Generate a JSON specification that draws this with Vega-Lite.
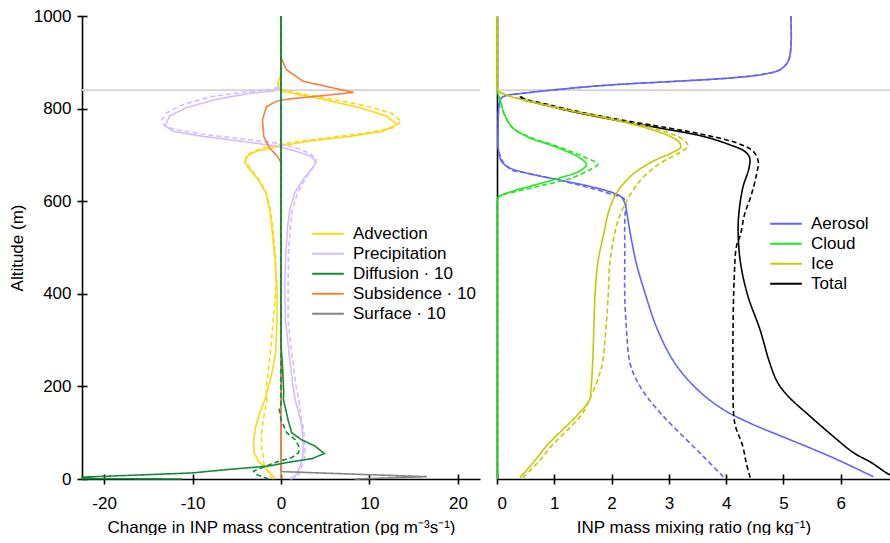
{
"$schema": "https://vega.github.io/schema/vega-lite/v6.json",
"background": "white",
"padding": {"left": 8, "top": 7, "right": 0, "bottom": 0},
"bounds": "flush",
"spacing": 17,
"config": {
  "font": "Liberation Sans",
  "view": {"stroke": null},
  "axis": {"grid": false, "labelFontSize": 17, "titleFontSize": 17, "titleFontWeight": "normal", "labelColor": "black", "titleColor": "black", "domainColor": "black", "tickColor": "black", "domainWidth": 1.6, "tickWidth": 1.6, "tickSize": 5, "labelPadding": 6, "titlePadding": 6.7, "labelFont": "Liberation Sans", "titleFont": "Liberation Sans", "gridColor": "black", "gridWidth": 1.6, "gridOpacity": 1},
  "axisX": {"labelPadding": 11, "titlePadding": 8, "gridDash": [0, 458, 5, 3000]},
  "axisY": {"gridDash": [5, 3000]},
  "legend": {"labelFontSize": 17, "labelFont": "Liberation Sans", "labelColor": "black"}
},
"resolve": {"scale": {"color": "independent", "strokeDash": "independent"}},
"datasets": {
  "L": [
{"s":"Advection","r":"solid","z":1000,"v":0},{"s":"Advection","r":"solid","z":900,"v":0},{"s":"Advection","r":"solid","z":872,"v":0},{"s":"Advection","r":"solid","z":862,"v":-0.25},{"s":"Advection","r":"solid","z":852,"v":-0.35},{"s":"Advection","r":"solid","z":845,"v":-0.2},{"s":"Advection","r":"solid","z":838,"v":0},{"s":"Advection","r":"solid","z":833,"v":1.4},{"s":"Advection","r":"solid","z":820,"v":4.75},{"s":"Advection","r":"solid","z":802,"v":8.9},{"s":"Advection","r":"solid","z":784,"v":11.9},{"s":"Advection","r":"solid","z":766,"v":13.1},{"s":"Advection","r":"solid","z":751,"v":11.5},{"s":"Advection","r":"solid","z":740,"v":7.8},{"s":"Advection","r":"solid","z":730,"v":3.2},{"s":"Advection","r":"solid","z":719,"v":-0.15},{"s":"Advection","r":"solid","z":708,"v":-2.8},{"s":"Advection","r":"solid","z":697,"v":-3.9},{"s":"Advection","r":"solid","z":683,"v":-4.1},{"s":"Advection","r":"solid","z":668,"v":-3.5},{"s":"Advection","r":"solid","z":647,"v":-2.6},{"s":"Advection","r":"solid","z":618,"v":-1.7},{"s":"Advection","r":"solid","z":582,"v":-1.3},{"s":"Advection","r":"solid","z":546,"v":-1.05},{"s":"Advection","r":"solid","z":488,"v":-0.75},{"s":"Advection","r":"solid","z":416,"v":-0.45},{"s":"Advection","r":"solid","z":345,"v":-0.45},{"s":"Advection","r":"solid","z":273,"v":-0.6},{"s":"Advection","r":"solid","z":222,"v":-1.1},{"s":"Advection","r":"solid","z":172,"v":-1.8},{"s":"Advection","r":"solid","z":143,"v":-2.4},{"s":"Advection","r":"solid","z":114,"v":-2.85},{"s":"Advection","r":"solid","z":85,"v":-3.1},{"s":"Advection","r":"solid","z":57,"v":-3.05},{"s":"Advection","r":"solid","z":38,"v":-2.55},{"s":"Advection","r":"solid","z":24,"v":-1.8},{"s":"Advection","r":"solid","z":10,"v":-1.05},{"s":"Advection","r":"solid","z":0,"v":-0.6},
{"s":"Advection","r":"dashed","z":1000,"v":0},{"s":"Advection","r":"dashed","z":900,"v":0},{"s":"Advection","r":"dashed","z":872,"v":0},{"s":"Advection","r":"dashed","z":862,"v":-0.25},{"s":"Advection","r":"dashed","z":852,"v":-0.35},{"s":"Advection","r":"dashed","z":845,"v":-0.1},{"s":"Advection","r":"dashed","z":840,"v":0.3},{"s":"Advection","r":"dashed","z":834,"v":1.8},{"s":"Advection","r":"dashed","z":822,"v":5.3},{"s":"Advection","r":"dashed","z":806,"v":9.6},{"s":"Advection","r":"dashed","z":789,"v":12.6},{"s":"Advection","r":"dashed","z":772,"v":13.6},{"s":"Advection","r":"dashed","z":758,"v":12.6},{"s":"Advection","r":"dashed","z":746,"v":9.2},{"s":"Advection","r":"dashed","z":736,"v":4.8},{"s":"Advection","r":"dashed","z":726,"v":0.8},{"s":"Advection","r":"dashed","z":715,"v":-2.2},{"s":"Advection","r":"dashed","z":703,"v":-3.6},{"s":"Advection","r":"dashed","z":688,"v":-4.0},{"s":"Advection","r":"dashed","z":672,"v":-3.5},{"s":"Advection","r":"dashed","z":650,"v":-2.6},{"s":"Advection","r":"dashed","z":620,"v":-1.7},{"s":"Advection","r":"dashed","z":582,"v":-1.2},{"s":"Advection","r":"dashed","z":546,"v":-0.95},{"s":"Advection","r":"dashed","z":488,"v":-0.65},{"s":"Advection","r":"dashed","z":416,"v":-0.55},{"s":"Advection","r":"dashed","z":360,"v":-0.8},{"s":"Advection","r":"dashed","z":273,"v":-1.2},{"s":"Advection","r":"dashed","z":200,"v":-1.65},{"s":"Advection","r":"dashed","z":172,"v":-1.6},{"s":"Advection","r":"dashed","z":128,"v":-2.0},{"s":"Advection","r":"dashed","z":100,"v":-2.2},{"s":"Advection","r":"dashed","z":71,"v":-2.2},{"s":"Advection","r":"dashed","z":46,"v":-2.0},{"s":"Advection","r":"dashed","z":28,"v":-1.9},{"s":"Advection","r":"dashed","z":13,"v":-1.4},{"s":"Advection","r":"dashed","z":0,"v":-0.9},
{"s":"Precipitation","r":"solid","z":1000,"v":0},{"s":"Precipitation","r":"solid","z":860,"v":0},{"s":"Precipitation","r":"solid","z":845,"v":0},{"s":"Precipitation","r":"solid","z":838,"v":-0.9},{"s":"Precipitation","r":"solid","z":833,"v":-3.5},{"s":"Precipitation","r":"solid","z":820,"v":-7.3},{"s":"Precipitation","r":"solid","z":802,"v":-10.7},{"s":"Precipitation","r":"solid","z":784,"v":-12.6},{"s":"Precipitation","r":"solid","z":763,"v":-13.1},{"s":"Precipitation","r":"solid","z":751,"v":-12.2},{"s":"Precipitation","r":"solid","z":740,"v":-8.8},{"s":"Precipitation","r":"solid","z":730,"v":-4.7},{"s":"Precipitation","r":"solid","z":719,"v":-0.5},{"s":"Precipitation","r":"solid","z":708,"v":1.7},{"s":"Precipitation","r":"solid","z":697,"v":3.4},{"s":"Precipitation","r":"solid","z":684,"v":4.0},{"s":"Precipitation","r":"solid","z":668,"v":3.4},{"s":"Precipitation","r":"solid","z":647,"v":2.5},{"s":"Precipitation","r":"solid","z":618,"v":1.55},{"s":"Precipitation","r":"solid","z":582,"v":1.0},{"s":"Precipitation","r":"solid","z":546,"v":0.75},{"s":"Precipitation","r":"solid","z":488,"v":0.55},{"s":"Precipitation","r":"solid","z":416,"v":0.42},{"s":"Precipitation","r":"solid","z":345,"v":0.5},{"s":"Precipitation","r":"solid","z":273,"v":0.9},{"s":"Precipitation","r":"solid","z":200,"v":1.36},{"s":"Precipitation","r":"solid","z":172,"v":1.6},{"s":"Precipitation","r":"solid","z":143,"v":2.0},{"s":"Precipitation","r":"solid","z":114,"v":2.35},{"s":"Precipitation","r":"solid","z":78,"v":2.5},{"s":"Precipitation","r":"solid","z":49,"v":2.5},{"s":"Precipitation","r":"solid","z":28,"v":2.15},{"s":"Precipitation","r":"solid","z":10,"v":1.8},{"s":"Precipitation","r":"solid","z":0,"v":1.0},
{"s":"Precipitation","r":"dashed","z":1000,"v":0},{"s":"Precipitation","r":"dashed","z":860,"v":0},{"s":"Precipitation","r":"dashed","z":848,"v":0},{"s":"Precipitation","r":"dashed","z":842,"v":-1.0},{"s":"Precipitation","r":"dashed","z":836,"v":-4.0},{"s":"Precipitation","r":"dashed","z":826,"v":-7.8},{"s":"Precipitation","r":"dashed","z":808,"v":-11.2},{"s":"Precipitation","r":"dashed","z":790,"v":-13.0},{"s":"Precipitation","r":"dashed","z":775,"v":-13.5},{"s":"Precipitation","r":"dashed","z":763,"v":-13.2},{"s":"Precipitation","r":"dashed","z":755,"v":-12.0},{"s":"Precipitation","r":"dashed","z":745,"v":-9.0},{"s":"Precipitation","r":"dashed","z":736,"v":-5.0},{"s":"Precipitation","r":"dashed","z":726,"v":-0.7},{"s":"Precipitation","r":"dashed","z":715,"v":1.8},{"s":"Precipitation","r":"dashed","z":703,"v":3.3},{"s":"Precipitation","r":"dashed","z":690,"v":4.0},{"s":"Precipitation","r":"dashed","z":672,"v":3.6},{"s":"Precipitation","r":"dashed","z":650,"v":2.8},{"s":"Precipitation","r":"dashed","z":620,"v":1.9},{"s":"Precipitation","r":"dashed","z":582,"v":1.3},{"s":"Precipitation","r":"dashed","z":546,"v":1.05},{"s":"Precipitation","r":"dashed","z":488,"v":0.85},{"s":"Precipitation","r":"dashed","z":416,"v":0.8},{"s":"Precipitation","r":"dashed","z":345,"v":0.8},{"s":"Precipitation","r":"dashed","z":273,"v":1.2},{"s":"Precipitation","r":"dashed","z":200,"v":1.7},{"s":"Precipitation","r":"dashed","z":172,"v":2.0},{"s":"Precipitation","r":"dashed","z":128,"v":2.3},{"s":"Precipitation","r":"dashed","z":114,"v":2.5},{"s":"Precipitation","r":"dashed","z":78,"v":2.7},{"s":"Precipitation","r":"dashed","z":49,"v":2.7},{"s":"Precipitation","r":"dashed","z":28,"v":2.35},{"s":"Precipitation","r":"dashed","z":10,"v":2.1},{"s":"Precipitation","r":"dashed","z":0,"v":1.15},
{"s":"Surface · 10","r":"solid","z":1000,"v":0},{"s":"Surface · 10","r":"solid","z":16,"v":0},{"s":"Surface · 10","r":"solid","z":5,"v":16.5},{"s":"Surface · 10","r":"solid","z":0,"v":8.3},
{"s":"Subsidence · 10","r":"solid","z":1000,"v":0},{"s":"Subsidence · 10","r":"solid","z":910,"v":0},{"s":"Subsidence · 10","r":"solid","z":906,"v":0.1},{"s":"Subsidence · 10","r":"solid","z":884,"v":0.6},{"s":"Subsidence · 10","r":"solid","z":859,"v":2.5},{"s":"Subsidence · 10","r":"solid","z":848,"v":5.1},{"s":"Subsidence · 10","r":"solid","z":835,"v":8.2},{"s":"Subsidence · 10","r":"solid","z":828,"v":4.7},{"s":"Subsidence · 10","r":"solid","z":821,"v":1.0},{"s":"Subsidence · 10","r":"solid","z":816,"v":-0.5},{"s":"Subsidence · 10","r":"solid","z":804,"v":-1.65},{"s":"Subsidence · 10","r":"solid","z":776,"v":-2.1},{"s":"Subsidence · 10","r":"solid","z":740,"v":-1.95},{"s":"Subsidence · 10","r":"solid","z":715,"v":-1.3},{"s":"Subsidence · 10","r":"solid","z":697,"v":-0.4},{"s":"Subsidence · 10","r":"solid","z":683,"v":0},{"s":"Subsidence · 10","r":"solid","z":0,"v":0},
{"s":"Diffusion · 10","r":"solid","z":1000,"v":0},{"s":"Diffusion · 10","r":"solid","z":290,"v":0},{"s":"Diffusion · 10","r":"solid","z":236,"v":0.2},{"s":"Diffusion · 10","r":"solid","z":187,"v":0.3},{"s":"Diffusion · 10","r":"solid","z":172,"v":0.27},{"s":"Diffusion · 10","r":"solid","z":128,"v":0.8},{"s":"Diffusion · 10","r":"solid","z":100,"v":1.2},{"s":"Diffusion · 10","r":"solid","z":85,"v":2.3},{"s":"Diffusion · 10","r":"solid","z":71,"v":3.85},{"s":"Diffusion · 10","r":"solid","z":55,"v":4.9},{"s":"Diffusion · 10","r":"solid","z":44,"v":3.5},{"s":"Diffusion · 10","r":"solid","z":36,"v":0.8},{"s":"Diffusion · 10","r":"solid","z":28,"v":-1.4},{"s":"Diffusion · 10","r":"solid","z":20,"v":-6.3},{"s":"Diffusion · 10","r":"solid","z":13,"v":-10.1},{"s":"Diffusion · 10","r":"solid","z":8,"v":-16.9},{"s":"Diffusion · 10","r":"solid","z":4,"v":-22.5},{"s":"Diffusion · 10","r":"solid","z":0.8,"v":-22.5},{"s":"Diffusion · 10","r":"solid","z":0,"v":-11.2},
{"s":"Diffusion · 10","r":"dashed","z":1000,"v":0},{"s":"Diffusion · 10","r":"dashed","z":160,"v":0},{"s":"Diffusion · 10","r":"dashed","z":150,"v":-0.2},{"s":"Diffusion · 10","r":"dashed","z":128,"v":0},{"s":"Diffusion · 10","r":"dashed","z":100,"v":0.65},{"s":"Diffusion · 10","r":"dashed","z":85,"v":1.6},{"s":"Diffusion · 10","r":"dashed","z":71,"v":2.0},{"s":"Diffusion · 10","r":"dashed","z":57,"v":2.0},{"s":"Diffusion · 10","r":"dashed","z":46,"v":1.2},{"s":"Diffusion · 10","r":"dashed","z":38,"v":-0.3},{"s":"Diffusion · 10","r":"dashed","z":31,"v":-1.3},{"s":"Diffusion · 10","r":"dashed","z":17,"v":-3.1},{"s":"Diffusion · 10","r":"dashed","z":10,"v":-2.85},{"s":"Diffusion · 10","r":"dashed","z":0,"v":-1.4}
  ],
  "R": [
{"s":"Aerosol","r":"solid","z":1000,"v":5.13},{"s":"Aerosol","r":"solid","z":931,"v":5.13},{"s":"Aerosol","r":"solid","z":902,"v":5.08},{"s":"Aerosol","r":"solid","z":884,"v":4.94},{"s":"Aerosol","r":"solid","z":874,"v":4.64},{"s":"Aerosol","r":"solid","z":866,"v":4.06},{"s":"Aerosol","r":"solid","z":859,"v":3.13},{"s":"Aerosol","r":"solid","z":851,"v":1.97},{"s":"Aerosol","r":"solid","z":841,"v":1.04},{"s":"Aerosol","r":"solid","z":833,"v":0.45},{"s":"Aerosol","r":"solid","z":827,"v":0.13},{"s":"Aerosol","r":"solid","z":820,"v":0.06},{"s":"Aerosol","r":"solid","z":800,"v":0.03},{"s":"Aerosol","r":"solid","z":760,"v":0.02},{"s":"Aerosol","r":"solid","z":715,"v":0.02},{"s":"Aerosol","r":"solid","z":686,"v":0.08},{"s":"Aerosol","r":"solid","z":672,"v":0.22},{"s":"Aerosol","r":"solid","z":661,"v":0.51},{"s":"Aerosol","r":"solid","z":647,"v":1.04},{"s":"Aerosol","r":"solid","z":632,"v":1.62},{"s":"Aerosol","r":"solid","z":618,"v":2.03},{"s":"Aerosol","r":"solid","z":609,"v":2.17},{"s":"Aerosol","r":"solid","z":596,"v":2.23},{"s":"Aerosol","r":"solid","z":557,"v":2.29},{"s":"Aerosol","r":"solid","z":528,"v":2.33},{"s":"Aerosol","r":"solid","z":467,"v":2.43},{"s":"Aerosol","r":"solid","z":395,"v":2.6},{"s":"Aerosol","r":"solid","z":323,"v":2.8},{"s":"Aerosol","r":"solid","z":251,"v":3.1},{"s":"Aerosol","r":"solid","z":193,"v":3.5},{"s":"Aerosol","r":"solid","z":150,"v":3.95},{"s":"Aerosol","r":"solid","z":121,"v":4.41},{"s":"Aerosol","r":"solid","z":85,"v":5.11},{"s":"Aerosol","r":"solid","z":49,"v":5.81},{"s":"Aerosol","r":"solid","z":5,"v":6.57},
{"s":"Aerosol","r":"dashed","z":1000,"v":5.13},{"s":"Aerosol","r":"dashed","z":931,"v":5.13},{"s":"Aerosol","r":"dashed","z":902,"v":5.08},{"s":"Aerosol","r":"dashed","z":884,"v":4.94},{"s":"Aerosol","r":"dashed","z":874,"v":4.64},{"s":"Aerosol","r":"dashed","z":866,"v":4.06},{"s":"Aerosol","r":"dashed","z":859,"v":3.13},{"s":"Aerosol","r":"dashed","z":851,"v":1.97},{"s":"Aerosol","r":"dashed","z":841,"v":1.04},{"s":"Aerosol","r":"dashed","z":833,"v":0.45},{"s":"Aerosol","r":"dashed","z":827,"v":0.13},{"s":"Aerosol","r":"dashed","z":820,"v":0.06},{"s":"Aerosol","r":"dashed","z":800,"v":0.03},{"s":"Aerosol","r":"dashed","z":760,"v":0.02},{"s":"Aerosol","r":"dashed","z":715,"v":0.02},{"s":"Aerosol","r":"dashed","z":686,"v":0.1},{"s":"Aerosol","r":"dashed","z":668,"v":0.25},{"s":"Aerosol","r":"dashed","z":660,"v":0.55},{"s":"Aerosol","r":"dashed","z":645,"v":1.1},{"s":"Aerosol","r":"dashed","z":629,"v":1.62},{"s":"Aerosol","r":"dashed","z":614,"v":2.03},{"s":"Aerosol","r":"dashed","z":607,"v":2.2},{"s":"Aerosol","r":"dashed","z":600,"v":2.24},{"s":"Aerosol","r":"dashed","z":557,"v":2.23},{"s":"Aerosol","r":"dashed","z":467,"v":2.23},{"s":"Aerosol","r":"dashed","z":395,"v":2.23},{"s":"Aerosol","r":"dashed","z":323,"v":2.26},{"s":"Aerosol","r":"dashed","z":251,"v":2.32},{"s":"Aerosol","r":"dashed","z":215,"v":2.43},{"s":"Aerosol","r":"dashed","z":179,"v":2.61},{"s":"Aerosol","r":"dashed","z":136,"v":2.9},{"s":"Aerosol","r":"dashed","z":92,"v":3.25},{"s":"Aerosol","r":"dashed","z":49,"v":3.6},{"s":"Aerosol","r":"dashed","z":5,"v":3.95},
{"s":"Total","r":"solid","z":826,"v":0.4},{"s":"Total","r":"solid","z":820,"v":0.45},{"s":"Total","r":"solid","z":812,"v":0.7},{"s":"Total","r":"solid","z":794,"v":1.3},{"s":"Total","r":"solid","z":776,"v":2.03},{"s":"Total","r":"solid","z":758,"v":2.84},{"s":"Total","r":"solid","z":740,"v":3.6},{"s":"Total","r":"solid","z":722,"v":4.06},{"s":"Total","r":"solid","z":708,"v":4.32},{"s":"Total","r":"solid","z":694,"v":4.41},{"s":"Total","r":"solid","z":672,"v":4.4},{"s":"Total","r":"solid","z":629,"v":4.29},{"s":"Total","r":"solid","z":571,"v":4.22},{"s":"Total","r":"solid","z":528,"v":4.21},{"s":"Total","r":"solid","z":467,"v":4.25},{"s":"Total","r":"solid","z":395,"v":4.38},{"s":"Total","r":"solid","z":323,"v":4.59},{"s":"Total","r":"solid","z":251,"v":4.76},{"s":"Total","r":"solid","z":208,"v":4.9},{"s":"Total","r":"solid","z":179,"v":5.08},{"s":"Total","r":"solid","z":136,"v":5.46},{"s":"Total","r":"solid","z":92,"v":5.87},{"s":"Total","r":"solid","z":57,"v":6.22},{"s":"Total","r":"solid","z":35,"v":6.54},{"s":"Total","r":"solid","z":13,"v":6.8},{"s":"Total","r":"solid","z":9,"v":6.86},
{"s":"Total","r":"dashed","z":826,"v":0.42},{"s":"Total","r":"dashed","z":820,"v":0.5},{"s":"Total","r":"dashed","z":812,"v":0.78},{"s":"Total","r":"dashed","z":794,"v":1.4},{"s":"Total","r":"dashed","z":776,"v":2.15},{"s":"Total","r":"dashed","z":758,"v":3.0},{"s":"Total","r":"dashed","z":744,"v":3.6},{"s":"Total","r":"dashed","z":726,"v":4.18},{"s":"Total","r":"dashed","z":708,"v":4.47},{"s":"Total","r":"dashed","z":686,"v":4.56},{"s":"Total","r":"dashed","z":658,"v":4.53},{"s":"Total","r":"dashed","z":614,"v":4.44},{"s":"Total","r":"dashed","z":571,"v":4.32},{"s":"Total","r":"dashed","z":528,"v":4.25},{"s":"Total","r":"dashed","z":503,"v":4.18},{"s":"Total","r":"dashed","z":431,"v":4.14},{"s":"Total","r":"dashed","z":323,"v":4.12},{"s":"Total","r":"dashed","z":215,"v":4.12},{"s":"Total","r":"dashed","z":121,"v":4.15},{"s":"Total","r":"dashed","z":71,"v":4.29},{"s":"Total","r":"dashed","z":35,"v":4.35},{"s":"Total","r":"dashed","z":3,"v":4.42},
{"s":"Cloud","r":"solid","z":1000,"v":0},{"s":"Cloud","r":"solid","z":900,"v":0},{"s":"Cloud","r":"solid","z":850,"v":0},{"s":"Cloud","r":"solid","z":840,"v":0},{"s":"Cloud","r":"solid","z":816,"v":0.06},{"s":"Cloud","r":"solid","z":787,"v":0.13},{"s":"Cloud","r":"solid","z":758,"v":0.28},{"s":"Cloud","r":"solid","z":737,"v":0.57},{"s":"Cloud","r":"solid","z":722,"v":0.92},{"s":"Cloud","r":"solid","z":708,"v":1.21},{"s":"Cloud","r":"solid","z":694,"v":1.44},{"s":"Cloud","r":"solid","z":679,"v":1.56},{"s":"Cloud","r":"solid","z":665,"v":1.44},{"s":"Cloud","r":"solid","z":650,"v":1.09},{"s":"Cloud","r":"solid","z":636,"v":0.69},{"s":"Cloud","r":"solid","z":622,"v":0.28},{"s":"Cloud","r":"solid","z":611,"v":0.05},{"s":"Cloud","r":"solid","z":604,"v":0.01},{"s":"Cloud","r":"solid","z":598,"v":0},{"s":"Cloud","r":"solid","z":590,"v":0},{"s":"Cloud","r":"solid","z":575,"v":0},{"s":"Cloud","r":"solid","z":540,"v":0},{"s":"Cloud","r":"solid","z":450,"v":0},{"s":"Cloud","r":"solid","z":300,"v":0},{"s":"Cloud","r":"solid","z":0,"v":0},
{"s":"Cloud","r":"dashed","z":1000,"v":0},{"s":"Cloud","r":"dashed","z":900,"v":0},{"s":"Cloud","r":"dashed","z":850,"v":0},{"s":"Cloud","r":"dashed","z":840,"v":0},{"s":"Cloud","r":"dashed","z":816,"v":0.06},{"s":"Cloud","r":"dashed","z":787,"v":0.13},{"s":"Cloud","r":"dashed","z":758,"v":0.28},{"s":"Cloud","r":"dashed","z":737,"v":0.6},{"s":"Cloud","r":"dashed","z":722,"v":0.97},{"s":"Cloud","r":"dashed","z":708,"v":1.28},{"s":"Cloud","r":"dashed","z":694,"v":1.55},{"s":"Cloud","r":"dashed","z":680,"v":1.76},{"s":"Cloud","r":"dashed","z":668,"v":1.62},{"s":"Cloud","r":"dashed","z":650,"v":1.3},{"s":"Cloud","r":"dashed","z":633,"v":0.75},{"s":"Cloud","r":"dashed","z":618,"v":0.23},{"s":"Cloud","r":"dashed","z":610,"v":0.03},{"s":"Cloud","r":"dashed","z":604,"v":0},{"s":"Cloud","r":"dashed","z":596,"v":0},{"s":"Cloud","r":"dashed","z":582,"v":0},{"s":"Cloud","r":"dashed","z":550,"v":0},{"s":"Cloud","r":"dashed","z":450,"v":0},{"s":"Cloud","r":"dashed","z":300,"v":0},{"s":"Cloud","r":"dashed","z":0,"v":0},
{"s":"Ice","r":"solid","z":1000,"v":0},{"s":"Ice","r":"solid","z":900,"v":0},{"s":"Ice","r":"solid","z":855,"v":0},{"s":"Ice","r":"solid","z":845,"v":0},{"s":"Ice","r":"solid","z":840,"v":0.005},{"s":"Ice","r":"solid","z":837,"v":0.03},{"s":"Ice","r":"solid","z":827,"v":0.22},{"s":"Ice","r":"solid","z":812,"v":0.69},{"s":"Ice","r":"solid","z":794,"v":1.33},{"s":"Ice","r":"solid","z":776,"v":2.03},{"s":"Ice","r":"solid","z":758,"v":2.61},{"s":"Ice","r":"solid","z":740,"v":3.02},{"s":"Ice","r":"solid","z":726,"v":3.19},{"s":"Ice","r":"solid","z":715,"v":3.2},{"s":"Ice","r":"solid","z":704,"v":3.04},{"s":"Ice","r":"solid","z":686,"v":2.72},{"s":"Ice","r":"solid","z":658,"v":2.37},{"s":"Ice","r":"solid","z":622,"v":2.11},{"s":"Ice","r":"solid","z":586,"v":1.97},{"s":"Ice","r":"solid","z":528,"v":1.86},{"s":"Ice","r":"solid","z":467,"v":1.76},{"s":"Ice","r":"solid","z":395,"v":1.71},{"s":"Ice","r":"solid","z":323,"v":1.69},{"s":"Ice","r":"solid","z":251,"v":1.67},{"s":"Ice","r":"solid","z":193,"v":1.64},{"s":"Ice","r":"solid","z":172,"v":1.62},{"s":"Ice","r":"solid","z":143,"v":1.44},{"s":"Ice","r":"solid","z":107,"v":1.15},{"s":"Ice","r":"solid","z":71,"v":0.86},{"s":"Ice","r":"solid","z":35,"v":0.63},{"s":"Ice","r":"solid","z":3,"v":0.4},
{"s":"Ice","r":"dashed","z":1000,"v":0},{"s":"Ice","r":"dashed","z":900,"v":0},{"s":"Ice","r":"dashed","z":855,"v":0},{"s":"Ice","r":"dashed","z":845,"v":0},{"s":"Ice","r":"dashed","z":840,"v":0.005},{"s":"Ice","r":"dashed","z":837,"v":0.03},{"s":"Ice","r":"dashed","z":827,"v":0.23},{"s":"Ice","r":"dashed","z":812,"v":0.72},{"s":"Ice","r":"dashed","z":794,"v":1.38},{"s":"Ice","r":"dashed","z":776,"v":2.1},{"s":"Ice","r":"dashed","z":758,"v":2.72},{"s":"Ice","r":"dashed","z":740,"v":3.15},{"s":"Ice","r":"dashed","z":726,"v":3.31},{"s":"Ice","r":"dashed","z":718,"v":3.33},{"s":"Ice","r":"dashed","z":701,"v":3.13},{"s":"Ice","r":"dashed","z":679,"v":2.81},{"s":"Ice","r":"dashed","z":643,"v":2.49},{"s":"Ice","r":"dashed","z":600,"v":2.26},{"s":"Ice","r":"dashed","z":557,"v":2.11},{"s":"Ice","r":"dashed","z":528,"v":2.05},{"s":"Ice","r":"dashed","z":467,"v":1.97},{"s":"Ice","r":"dashed","z":395,"v":1.94},{"s":"Ice","r":"dashed","z":323,"v":1.9},{"s":"Ice","r":"dashed","z":251,"v":1.84},{"s":"Ice","r":"dashed","z":215,"v":1.76},{"s":"Ice","r":"dashed","z":179,"v":1.64},{"s":"Ice","r":"dashed","z":143,"v":1.5},{"s":"Ice","r":"dashed","z":107,"v":1.24},{"s":"Ice","r":"dashed","z":71,"v":0.95},{"s":"Ice","r":"dashed","z":35,"v":0.71},{"s":"Ice","r":"dashed","z":3,"v":0.45}
  ],
  "H": [{"z": 840}]
},
"hconcat": [
  {
    "width": 398, "height": 463,
    "encoding": {
      "y": {"field": "z", "type": "quantitative", "scale": {"domain": [0, 1000], "nice": false},
            "axis": {"title": "Altitude (m)", "values": [0, 200, 400, 600, 800, 1000], "format": "d", "grid": true}}
    },
    "layer": [
      {"data": {"name": "H"}, "mark": {"type": "rule", "color": "#d4d4d4", "strokeWidth": 1.6, "x2Offset": 17}},
      {"data": {"name": "L"},
       "mark": {"type": "line", "strokeWidth": 1.6, "clip": false},
       "encoding": {
         "x": {"field": "v", "type": "quantitative", "scale": {"domain": [-22.5, 22.5], "nice": false},
               "axis": {"title": "Change in INP mass concentration (pg m⁻³s⁻¹)", "values": [-20, -10, 0, 10, 20], "labelExpr": "replace(datum.label, '−', '-')", "grid": true}},
         "color": {"field": "s", "type": "nominal",
                   "scale": {"domain": ["Advection", "Precipitation", "Diffusion · 10", "Subsidence · 10", "Surface · 10"],
                             "range": ["#FFD814", "#D5BCFF", "#148A38", "#F4813C", "#858585"]},
                   "legend": {"orient": "none", "legendX": 229, "legendY": 208, "title": null, "symbolType": "stroke", "symbolSize": 1000, "symbolStrokeWidth": 2, "clipHeight": 19.3, "rowPadding": 0, "labelOffset": 8, "labelFontSize": 17}},
         "strokeDash": {"field": "r", "type": "nominal", "scale": {"domain": ["solid", "dashed"], "range": [[1, 0], [5, 3]]}, "legend": null},
         "order": {"field": "z", "type": "quantitative"}
       }}
    ]
  },
  {
    "width": 393, "height": 463,
    "encoding": {
      "y": {"field": "z", "type": "quantitative", "scale": {"domain": [0, 1000], "nice": false},
            "axis": {"title": null, "labels": false, "ticks": false, "domain": true, "grid": false}}
    },
    "layer": [
      {"data": {"name": "H"}, "mark": {"type": "rule", "color": "#d4d4d4", "strokeWidth": 1.6}},
      {"data": {"name": "R"},
       "mark": {"type": "line", "strokeWidth": 1.6, "clip": false, "interpolate": "catmull-rom"},
       "encoding": {
         "x": {"field": "v", "type": "quantitative", "scale": {"domain": [0, 6.86], "nice": false},
               "axis": {"title": "INP mass mixing ratio (ng kg⁻¹)", "values": [0, 1, 2, 3, 4, 5, 6], "grid": true}},
         "color": {"field": "s", "type": "nominal",
                   "scale": {"domain": ["Aerosol", "Cloud", "Ice", "Total"],
                             "range": ["#6464FA", "#1EEB1E", "#C8C800", "#000000"]},
                   "legend": {"orient": "none", "legendX": 272, "legendY": 198, "title": null, "symbolType": "stroke", "symbolSize": 1000, "symbolStrokeWidth": 2, "clipHeight": 19.4, "rowPadding": 0, "labelOffset": 8, "labelFontSize": 17}},
         "strokeDash": {"field": "r", "type": "nominal", "scale": {"domain": ["solid", "dashed"], "range": [[1, 0], [5, 3]]}, "legend": null},
         "order": {"field": "z", "type": "quantitative"}
       }}
    ]
  }
]
}
